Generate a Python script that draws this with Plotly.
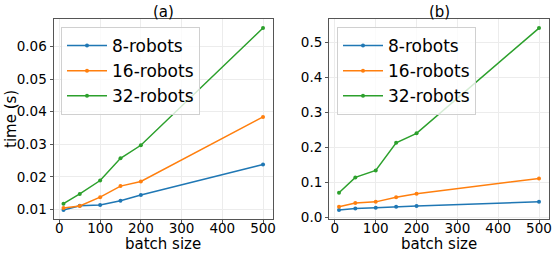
import plotly.graph_objects as go

batch = [10, 50, 100, 150, 200, 500]
names = ["8-robots", "16-robots", "32-robots"]
colors = ["#1f77b4", "#ff7f0e", "#2ca02c"]

time_a = [
    [0.0099, 0.0112, 0.0114, 0.0127, 0.0145, 0.0238],
    [0.0105, 0.0111, 0.0138, 0.0172, 0.0186, 0.0384],
    [0.0118, 0.0148, 0.0189, 0.0257, 0.0297, 0.0656],
]
time_b = [
    [0.021, 0.025, 0.027, 0.030, 0.032, 0.044],
    [0.030, 0.041, 0.044, 0.057, 0.067, 0.111],
    [0.070, 0.114, 0.134, 0.213, 0.240, 0.541],
]

W, H = 556, 255
FONT = "DejaVu Sans"


def px(X):
    return X / W


def py(Y):
    return (H - Y) / H


fig = go.Figure()
for i in range(3):
    fig.add_trace(go.Scatter(x=batch, y=time_a[i], name=names[i], mode="lines+markers",
                             line=dict(color=colors[i], width=1.5), marker=dict(size=4, color=colors[i]),
                             xaxis="x", yaxis="y", legend="legend"))
for i in range(3):
    fig.add_trace(go.Scatter(x=batch, y=time_b[i], name=names[i], mode="lines+markers",
                             line=dict(color=colors[i], width=1.5), marker=dict(size=4, color=colors[i]),
                             xaxis="x2", yaxis="y2", legend="legend2"))

ydom = [py(219), py(19)]
axcommon = dict(showline=True, linecolor="#555555", linewidth=1, mirror=True, ticks="outside",
                ticklen=3, tickcolor="#555555", showgrid=True, gridcolor="#ececec", gridwidth=1,
                zeroline=False, automargin=False, tickfont=dict(size=13.5, color="black", family=FONT))
xcommon = dict(range=[-14.5, 524.5], tickvals=[0, 100, 200, 300, 400, 500], ticklabelstandoff=-6, **axcommon)

legcommon = dict(font=dict(size=17, color="black", family=FONT), bgcolor="rgba(255,255,255,0.8)",
                 bordercolor="#d0d0d0", borderwidth=1, xanchor="left", yanchor="top", itemwidth=40)

ann = dict(xref="paper", yref="paper", showarrow=False, xanchor="center", yanchor="middle")
fig.update_layout(
    width=W, height=H, margin=dict(l=0, r=0, t=0, b=0), template="none",
    plot_bgcolor="white", paper_bgcolor="white",
    font=dict(family=FONT, color="black"),
    xaxis=dict(domain=[px(53.5), px(273)], **xcommon),
    yaxis=dict(domain=ydom, range=[0.00712, 0.06838], dtick=0.01, tickformat=".2f", **axcommon),
    xaxis2=dict(domain=[px(329), px(549)], anchor="y2", **xcommon),
    yaxis2=dict(domain=ydom, range=[-0.005, 0.567], dtick=0.1, tickformat=".1f", anchor="x2", **axcommon),
    legend=dict(x=px(61), y=py(27), **legcommon),
    legend2=dict(x=px(337), y=py(27), **legcommon),
    annotations=[
        dict(text="(a)", x=px((53.5 + 273) / 2), y=py(12), font=dict(size=15, family=FONT), **ann),
        dict(text="(b)", x=px((329 + 549) / 2), y=py(12), font=dict(size=15, family=FONT), **ann),
        dict(text="batch size", x=px((53.5 + 273) / 2), y=py(244), font=dict(size=15, family=FONT), **ann),
        dict(text="batch size", x=px((329 + 549) / 2), y=py(244), font=dict(size=15, family=FONT), **ann),
        dict(text="time (s)", x=px(11), y=py(119), textangle=-90, font=dict(size=15, family=FONT), **ann),
    ],
)
fig.write_html("out.html", config={"displayModeBar": False},
               post_script="document.body.style.margin='0px';")
